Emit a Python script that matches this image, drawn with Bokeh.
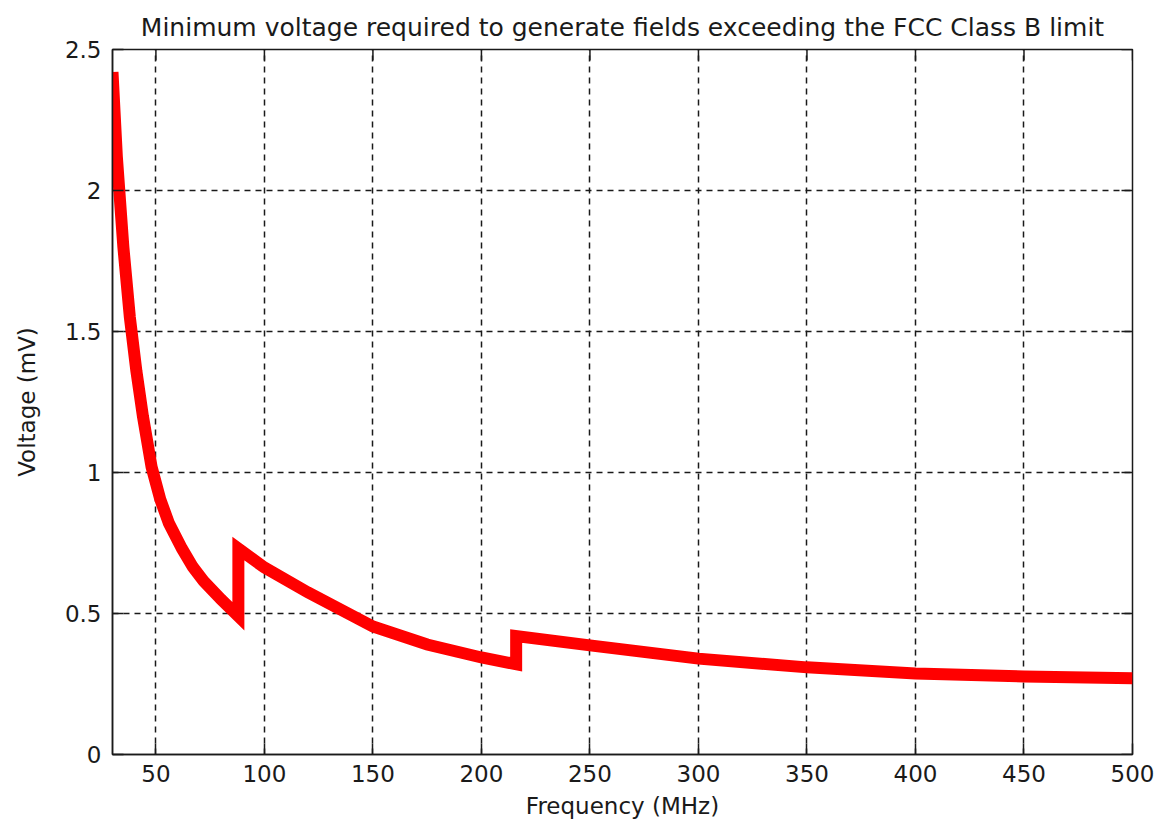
import math
from bokeh.plotting import figure
from bokeh.models import FixedTicker, Range1d
from bokeh.embed import file_html
from bokeh.resources import INLINE

# Minimum voltage (mV) needed to exceed the FCC Class B radiated limit
freq_mhz = [30, 32, 35, 38, 41, 44, 48, 52, 56, 62, 67, 72, 80, 88,
            88, 100, 120, 150, 175, 200, 216,
            216, 250, 300, 350, 400, 450, 500]
voltage_mv = [2.42, 2.12, 1.80, 1.55, 1.36, 1.20, 1.02, 0.905, 0.82, 0.73, 0.665, 0.615, 0.55, 0.49,
              0.73, 0.663, 0.575, 0.454, 0.39, 0.344, 0.32,
              0.42, 0.387, 0.340, 0.309, 0.287, 0.277, 0.270]

x_ticks = [50, 100, 150, 200, 250, 300, 350, 400, 450, 500]
y_ticks = [0, 0.5, 1, 1.5, 2, 2.5]
y_tick_labels = ["0", "0.5", "1", "1.5", "2", "2.5"]
x_lo, x_hi = 30, 500
y_lo, y_hi = 0, 2.5

FONT = "DejaVu Sans"
FS = "23px"
INK = "#1a1a1a"
TICK_LEN = 11

p = figure(width=1166, height=829, output_backend="svg", toolbar_location=None,
           x_range=Range1d(x_lo, x_hi), y_range=Range1d(y_lo, y_hi),
           title="Minimum voltage required to generate fields exceeding the FCC Class B limit",
           min_border_left=112, min_border_right=34, min_border_top=49, min_border_bottom=75,
           background_fill_color="white", border_fill_color="white")

p.title.text_font = FONT
p.title.text_font_size = "25px"
p.title.text_font_style = "normal"
p.title.align = "center"
p.title.text_color = INK
p.title.standoff = 15

p.outline_line_color = INK
p.outline_line_width = 1.5

for ax in (p.xaxis[0], p.yaxis[0]):
    ax.axis_line_color = INK
    ax.axis_line_width = 1.5
    ax.major_tick_in = TICK_LEN
    ax.major_tick_out = 0
    ax.minor_tick_line_color = None
    ax.major_tick_line_color = INK
    ax.major_tick_line_width = 1.5
    ax.major_label_text_font = FONT
    ax.major_label_text_font_size = FS
    ax.major_label_text_color = INK
    ax.axis_label_text_font = FONT
    ax.axis_label_text_font_size = FS
    ax.axis_label_text_font_style = "normal"
    ax.axis_label_text_color = INK

p.xaxis[0].ticker = FixedTicker(ticks=x_ticks)
p.yaxis[0].ticker = FixedTicker(ticks=y_ticks)
p.yaxis[0].major_label_overrides = {t: s for t, s in zip(y_ticks, y_tick_labels)}
p.xaxis[0].axis_label = "Frequency (MHz)"
p.yaxis[0].axis_label = "Voltage (mV)"
p.xaxis[0].major_label_standoff = 10
p.yaxis[0].major_label_standoff = 11
p.xaxis[0].axis_label_standoff = 8
p.yaxis[0].axis_label_standoff = 22

# inward tick marks along the top and right edges of the box
p.ray(x=x_ticks, y=[y_hi] * len(x_ticks), length=TICK_LEN, length_units="screen",
      angle=-math.pi / 2, line_color=INK, line_width=1.5)
p.ray(x=[x_hi] * len(y_ticks), y=y_ticks, length=TICK_LEN, length_units="screen",
      angle=math.pi, line_color=INK, line_width=1.5)

p.xgrid.ticker = FixedTicker(ticks=x_ticks)
p.ygrid.ticker = FixedTicker(ticks=y_ticks)
for g in (p.xgrid[0], p.ygrid[0]):
    g.grid_line_color = INK
    g.grid_line_width = 1.5
    g.grid_line_dash = "6 5"

p.line(freq_mhz, voltage_mv, line_color="#ff0000", line_width=12, line_join="miter")

open("out.html", "w").write(file_html(p, INLINE))
